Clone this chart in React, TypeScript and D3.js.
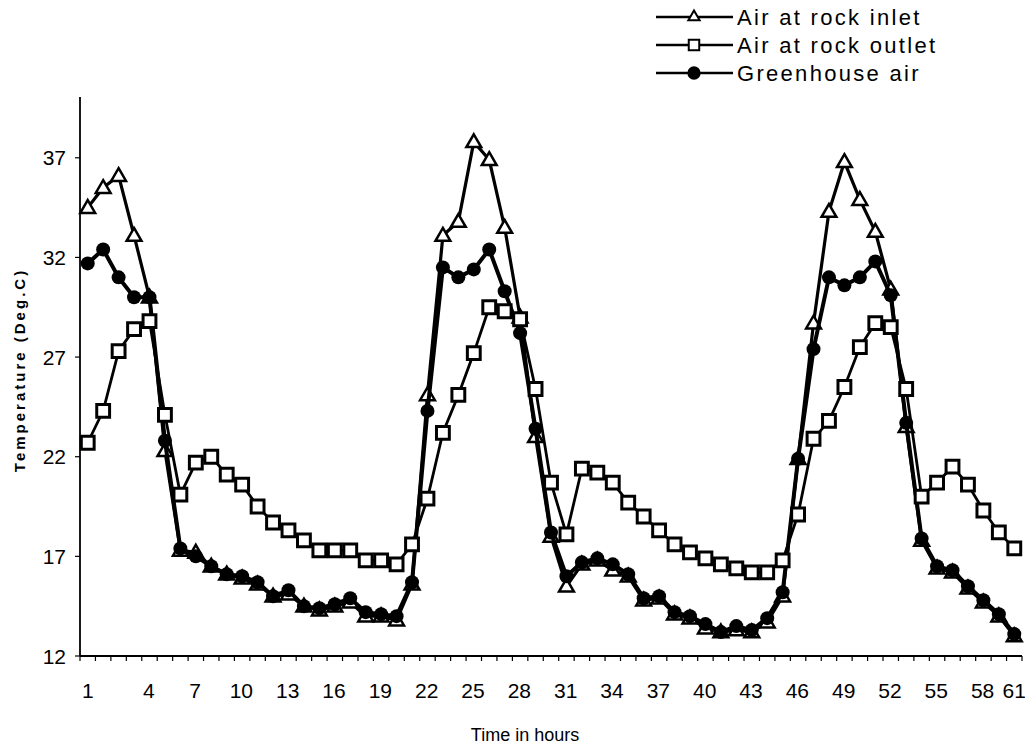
import React, { useEffect, useRef } from 'react';
import * as d3 from 'd3';

// hours on the category axis
const hours = d3.range(1, 62);
const xTickLabels = [1, 4, 7, 10, 13, 16, 19, 22, 25, 28, 31, 34, 37, 40, 43, 46, 49, 52, 55, 58, 61];
const yTickValues = [12, 17, 22, 27, 32, 37];

const inletAir = [
    34.5, 35.5, 36.1, 33.1, 30.0, 22.3, 17.3, 17.2, 16.5, 16.1,
    15.9, 15.6, 15.0, 15.1, 14.5, 14.3, 14.5, 14.7, 14.0, 14.0,
    13.8, 15.6, 25.1, 33.1, 33.8, 37.8, 36.9, 33.5, 29.0, 23.0,
    18.0, 15.5, 16.6, 16.8, 16.3, 16.0, 14.8, 14.9, 14.1, 13.9,
    13.4, 13.2, 13.3, 13.2, 13.7, 15.0, 21.9, 28.7, 34.3, 36.8,
    34.9, 33.3, 30.4, 23.5, 17.8, 16.4, 16.2, 15.4, 14.7, 14.0,
    13.0
];

const outletAir = [
    22.7, 24.3, 27.3, 28.4, 28.8, 24.1, 20.1, 21.7, 22.0, 21.1,
    20.6, 19.5, 18.7, 18.3, 17.8, 17.3, 17.3, 17.3, 16.8, 16.8,
    16.6, 17.6, 19.9, 23.2, 25.1, 27.2, 29.5, 29.3, 28.9, 25.4,
    20.7, 18.1, 21.4, 21.2, 20.7, 19.7, 19.0, 18.3, 17.6, 17.2,
    16.9, 16.6, 16.4, 16.2, 16.2, 16.8, 19.1, 22.9, 23.8, 25.5,
    27.5, 28.7, 28.5, 25.4, 20.0, 20.7, 21.5, 20.6, 19.3, 18.2,
    17.4
];

const greenhouseAir = [
    31.7, 32.4, 31.0, 30.0, 30.0, 22.8, 17.4, 17.0, 16.5, 16.1,
    16.0, 15.7, 15.0, 15.3, 14.5, 14.4, 14.6, 14.9, 14.2, 14.1,
    14.0, 15.7, 24.3, 31.5, 31.0, 31.4, 32.4, 30.3, 28.2, 23.4,
    18.2, 16.0, 16.7, 16.9, 16.6, 16.1, 14.9, 15.0, 14.2, 14.0,
    13.6, 13.2, 13.5, 13.3, 13.9, 15.2, 21.9, 27.4, 31.0, 30.6,
    31.0, 31.8, 30.1, 23.7, 17.9, 16.5, 16.3, 15.5, 14.8, 14.1,
    13.1
];

const seriesNames = ['Air at rock inlet', 'Air at rock outlet', 'Greenhouse air'];

function TemperatureChart() {

    const ref = useRef(null);

    const width = 1025;
    const height = 744;
    const font = '"Liberation Sans", Arial, sans-serif';

    useEffect(() => {
        drawChart();
    });

    function drawChart() {

        const svg = d3.select(ref.current);
        svg.selectAll('*').remove();

        const x = d3
            .scaleBand()
            .domain(hours)
            .range([80, 1022])
        ;
        const y = d3
            .scaleLinear()
            .domain([12, 40])
            .range([656, 98])
        ;
        const cx = (h) => x(h) + x.bandwidth() / 2;

        // Axes
        svg.append('line')
            .attr('x1', 80).attr('x2', 80)
            .attr('y1', y(40) - 1).attr('y2', y(12))
            .attr('stroke', '#000').attr('stroke-width', 1.8);
        svg.append('line')
            .attr('x1', 80).attr('x2', 1022)
            .attr('y1', y(12)).attr('y2', y(12))
            .attr('stroke', '#000').attr('stroke-width', 1.8);

        // y ticks and labels
        svg.selectAll('.ytick')
            .data(yTickValues)
            .enter()
            .append('line')
            .attr('x1', 75).attr('x2', 80)
            .attr('y1', d => y(d)).attr('y2', d => y(d))
            .attr('stroke', '#000').attr('stroke-width', 1.2);
        svg.selectAll('.ylabel')
            .data(yTickValues)
            .enter()
            .append('text')
            .attr('x', 66)
            .attr('y', d => y(d) + 7.5)
            .attr('text-anchor', 'end')
            .style('font-family', font)
            .style('font-size', '21px')
            .text(d => d);

        // x ticks between categories
        const boundaries = hours.map(h => x(h)).concat([x(61) + x.bandwidth()]);
        svg.selectAll('.xtick')
            .data(boundaries)
            .enter()
            .append('line')
            .attr('x1', d => d).attr('x2', d => d)
            .attr('y1', y(12)).attr('y2', y(12) + 5)
            .attr('stroke', '#000').attr('stroke-width', 1.2);

        // the printed labels sit about one category right of their points,
        // except the two end labels
        const labelShift = x.bandwidth() * 0.95;
        svg.selectAll('.xlabel')
            .data(xTickLabels)
            .enter()
            .append('text')
            .attr('x', (d, i) => cx(d) + (i === 0 || i === xTickLabels.length - 1 ? 0 : labelShift))
            .attr('y', 698)
            .attr('text-anchor', 'middle')
            .style('font-family', font)
            .style('font-size', '21px')
            .text(d => d);

        // Axis titles
        svg.append('text')
            .attr('transform', 'translate(25, 370) rotate(-90)')
            .attr('text-anchor', 'middle')
            .style('font-family', font)
            .style('font-size', '15px')
            .style('font-weight', 'bold')
            .style('letter-spacing', '3px')
            .text('Temperature (Deg.C)');
        svg.append('text')
            .attr('x', 525)
            .attr('y', 741)
            .attr('text-anchor', 'middle')
            .style('font-family', font)
            .style('font-size', '18px')
            .text('Time in hours');

        const lineGen = d3
            .line()
            .x((d, i) => cx(hours[i]))
            .y(d => y(d))
        ;

        const triangle = d3.symbol().type(d3.symbolTriangle).size(95);
        const square = d3.symbol().type(d3.symbolSquare).size(165);

        // Air at rock inlet
        svg.append('path')
            .attr('d', lineGen(inletAir))
            .attr('fill', 'none').attr('stroke', '#000').attr('stroke-width', 3.2);
        svg.selectAll('.tri')
            .data(inletAir)
            .enter()
            .append('path')
            .attr('d', triangle)
            .attr('transform', (d, i) => `translate(${cx(hours[i])}, ${y(d) + 1})`)
            .attr('fill', '#fff').attr('stroke', '#000').attr('stroke-width', 2.5);

        // Greenhouse air
        svg.append('path')
            .attr('d', lineGen(greenhouseAir))
            .attr('fill', 'none').attr('stroke', '#000').attr('stroke-width', 4);
        svg.selectAll('.dot')
            .data(greenhouseAir)
            .enter()
            .append('circle')
            .attr('cx', (d, i) => cx(hours[i]))
            .attr('cy', d => y(d))
            .attr('r', 7)
            .attr('fill', '#000');

        // Air at rock outlet
        svg.append('path')
            .attr('d', lineGen(outletAir))
            .attr('fill', 'none').attr('stroke', '#000').attr('stroke-width', 2.8);
        svg.selectAll('.sq')
            .data(outletAir)
            .enter()
            .append('path')
            .attr('d', square)
            .attr('transform', (d, i) => `translate(${cx(hours[i])}, ${y(d)})`)
            .attr('fill', '#fff').attr('stroke', '#000').attr('stroke-width', 3);

        // Legend
        const legendRows = [17, 45, 73];
        const legend = svg.selectAll('.legend')
            .data(seriesNames)
            .enter()
            .append('g')
            .attr('transform', (d, i) => `translate(0, ${legendRows[i]})`);
        legend.append('line')
            .attr('x1', 656).attr('x2', 733)
            .attr('y1', 0).attr('y2', 0)
            .attr('stroke', '#000').attr('stroke-width', 2.5);
        legend.append('path')
            .attr('d', (d, i) => i === 0
                ? d3.symbol().type(d3.symbolTriangle).size(55)()
                : i === 1
                    ? d3.symbol().type(d3.symbolSquare).size(110)()
                    : d3.symbol().type(d3.symbolCircle).size(100)())
            .attr('transform', 'translate(694, 0)')
            .attr('fill', (d, i) => i === 2 ? '#000' : '#fff')
            .attr('stroke', '#000')
            .attr('stroke-width', 2);
        legend.append('text')
            .attr('x', 737)
            .attr('y', 8)
            .style('font-family', font)
            .style('font-size', '22px')
            .style('letter-spacing', '2.3px')
            .text(d => d);
    };

    return (
        <svg
            ref={ref}
            width={width}
            height={height}
            style={{ position: 'absolute', left: 0, top: 0, background: '#fff' }}
        />
    );
};

export default function App() {
    return <TemperatureChart />;
}
